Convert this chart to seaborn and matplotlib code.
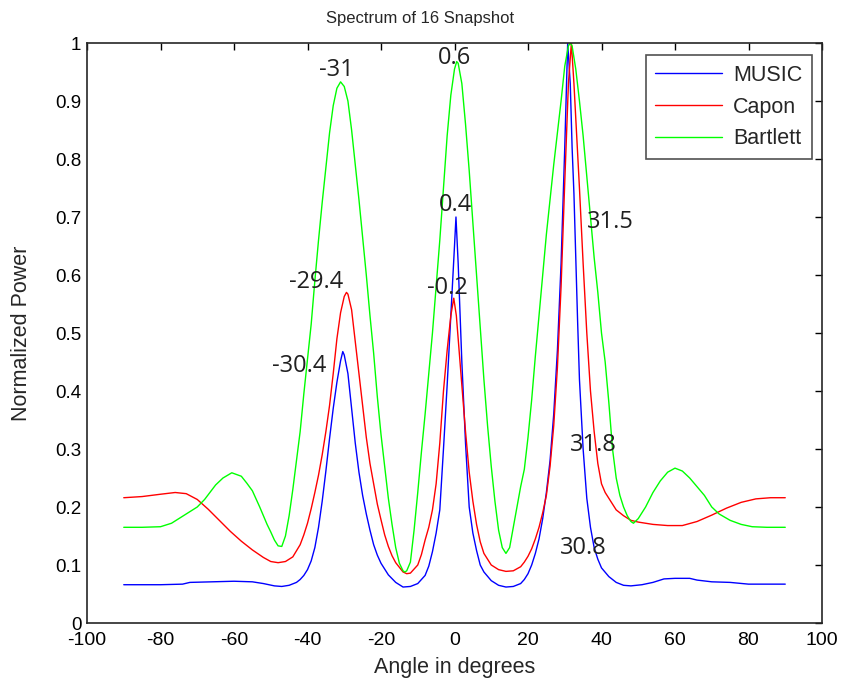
import matplotlib
matplotlib.use("Agg")
import matplotlib.pyplot as plt
import seaborn as sns
import pandas as pd

# ---- data ----
music_x = [-90, -80, -74, -72, -66, -60, -55, -52, -49, -47, -45, -43, -42, -41, -40, -39, -38, -37, -36,
           -35, -34, -33, -32, -31, -30.4, -30, -29, -28, -27, -26, -25, -24, -23, -22, -21, -20, -18, -16,
           -14, -12, -10, -8, -7, -6, -5, -4, -3, -2, -1, 0, 0.4, 1, 2, 3, 4, 5, 6, 7, 8, 10, 12, 14, 16, 18,
           19, 20, 21, 22, 23, 24, 25, 26, 27, 28, 29, 30, 30.8, 31.5, 32, 32.5, 33, 33.5, 34, 35, 36, 37, 38,
           39, 40, 42, 44, 46, 48, 51, 54, 57, 60, 64, 66, 70, 75, 80, 90]
music_y = [0.066, 0.066, 0.067, 0.07, 0.071, 0.072, 0.071, 0.068, 0.064, 0.063, 0.065, 0.07, 0.075, 0.082,
           0.092, 0.107, 0.13, 0.165, 0.21, 0.262, 0.318, 0.37, 0.415, 0.452, 0.468, 0.462, 0.43, 0.37, 0.31,
           0.26, 0.22, 0.188, 0.16, 0.135, 0.117, 0.103, 0.083, 0.07, 0.062, 0.063, 0.068, 0.082, 0.098,
           0.123, 0.155, 0.195, 0.3, 0.41, 0.53, 0.65, 0.70, 0.62, 0.45, 0.31, 0.2, 0.155, 0.125, 0.1, 0.088,
           0.073, 0.065, 0.062, 0.063, 0.068, 0.075, 0.085, 0.1, 0.12, 0.145, 0.18, 0.225, 0.28, 0.36, 0.47,
           0.62, 0.82, 1.0, 0.93, 0.82, 0.74, 0.63, 0.52, 0.42, 0.3, 0.215, 0.165, 0.13, 0.11, 0.095, 0.08,
           0.07, 0.065, 0.064, 0.066, 0.07, 0.076, 0.077, 0.077, 0.074, 0.071, 0.07, 0.067, 0.067]

capon_x = [-90, -85, -80, -76, -73, -70, -67, -64, -61, -58, -55, -52, -50, -48, -46, -44, -42, -41, -40,
           -39, -38, -37, -36, -35, -34, -33, -32, -31, -30, -29.4, -29, -28, -27, -26, -25, -24, -23, -22,
           -21, -20, -19, -18, -17, -16, -14, -13, -12, -10, -9, -8, -7, -6, -5, -4, -3, -2, -1, -0.2, 0.5,
           1, 2, 3, 4, 5, 6, 7, 8, 10, 12, 14, 16, 18, 19, 20, 21, 22, 23, 24, 25, 26, 27, 28, 29, 30, 31,
           31.8, 32.5, 33, 34, 35, 36, 37, 38, 39, 40, 41, 42, 43, 44, 46, 48, 50, 54, 58, 62, 66, 70, 74,
           78, 82, 86, 90]
capon_y = [0.216, 0.218, 0.222, 0.225, 0.223, 0.213, 0.196, 0.177, 0.158, 0.141, 0.126, 0.113, 0.106,
           0.104, 0.106, 0.114, 0.135, 0.152, 0.172, 0.197, 0.225, 0.255, 0.29, 0.33, 0.375, 0.43, 0.49,
           0.535, 0.563, 0.57, 0.567, 0.54, 0.485, 0.43, 0.375, 0.32, 0.275, 0.24, 0.205, 0.178, 0.152,
           0.132, 0.116, 0.104, 0.088, 0.085, 0.086, 0.1, 0.118, 0.143, 0.165, 0.195, 0.24, 0.31, 0.40,
           0.47, 0.53, 0.56, 0.53, 0.49, 0.41, 0.33, 0.26, 0.21, 0.17, 0.14, 0.12, 0.1, 0.092, 0.089, 0.09,
           0.097, 0.105, 0.115, 0.128, 0.145, 0.165, 0.19, 0.22, 0.27, 0.34, 0.44, 0.58, 0.76, 0.93, 1.0,
           0.93, 0.87, 0.75, 0.62, 0.5, 0.4, 0.33, 0.275, 0.24, 0.225, 0.215, 0.205, 0.195, 0.185, 0.177,
           0.174, 0.17, 0.168, 0.168, 0.175, 0.186, 0.198, 0.208, 0.214, 0.216, 0.216]

bartlett_x = [-90, -85, -80, -77, -73, -70, -68, -65, -63, -60.6, -58, -56.5, -55, -53, -51, -50, -49, -48,
              -47, -46, -45, -44, -43, -42, -41, -40, -39, -38, -37, -36, -35, -34, -33, -32, -31, -30, -29,
              -28, -27, -26, -25, -24, -23, -22, -21, -20, -19, -18, -17, -16, -15, -14, -13.5, -13, -12,
              -11, -10, -9, -8, -7, -6, -5, -4, -3, -2, -1, 0, 0.6, 1, 2, 3, 4, 5, 6, 7, 8, 9, 10, 11, 12,
              13, 14, 15, 16, 17, 18, 19, 20, 21, 22, 23, 24, 25, 26, 27, 28, 29, 30, 31, 31.5, 32, 33, 34,
              35, 36, 37, 38, 39, 40, 41, 42, 43, 44, 45, 46, 47, 48, 48.7, 50, 52, 54, 56, 58, 60, 62, 64,
              66, 68, 70, 72, 75, 78, 81, 85, 90]
bartlett_y = [0.165, 0.165, 0.166, 0.172, 0.188, 0.2, 0.213, 0.238, 0.25, 0.259, 0.253, 0.241, 0.228, 0.2,
              0.17, 0.157, 0.143, 0.133, 0.132, 0.15, 0.185, 0.23, 0.28, 0.33, 0.395, 0.455, 0.515, 0.59,
              0.66, 0.725, 0.785, 0.845, 0.892, 0.922, 0.933, 0.925, 0.9, 0.85, 0.79, 0.73, 0.665, 0.6,
              0.53, 0.465, 0.39, 0.325, 0.27, 0.215, 0.17, 0.13, 0.103, 0.09, 0.088, 0.09, 0.105, 0.16,
              0.225, 0.295, 0.36, 0.43, 0.5, 0.58, 0.66, 0.75, 0.84, 0.91, 0.955, 0.968, 0.965, 0.93, 0.86,
              0.78, 0.69, 0.6, 0.51, 0.42, 0.34, 0.27, 0.21, 0.16, 0.13, 0.12, 0.13, 0.165, 0.2, 0.235,
              0.265, 0.32, 0.385, 0.46, 0.53, 0.6, 0.67, 0.73, 0.79, 0.845, 0.9, 0.96, 0.995, 1.0, 0.995,
              0.955, 0.9, 0.84, 0.77, 0.7, 0.63, 0.57, 0.5, 0.45, 0.38, 0.3, 0.25, 0.22, 0.2, 0.185, 0.175,
              0.172, 0.18, 0.2, 0.225, 0.245, 0.26, 0.267, 0.262, 0.25, 0.235, 0.22, 0.2, 0.188, 0.177,
              0.17, 0.166, 0.165, 0.165]

series_names = ["MUSIC", "Capon", "Bartlett"]
series_colors = ["#0000ff", "#ff0000", "#00ff00"]

peak_labels = ["-31", "0.6", "0.4", "31.5", "-29.4", "-0.2", "-30.4", "31.8", "30.8"]
peak_label_x = [-32.2, 0.1, 0.4, 42.3, -37.7, -2.0, -42.3, 37.7, 35.0]
peak_label_y = [0.953, 0.974, 0.72, 0.691, 0.588, 0.578, 0.443, 0.307, 0.129]

x_ticks = [-100, -80, -60, -40, -20, 0, 20, 40, 60, 80, 100]
y_ticks = [0, 0.1, 0.2, 0.3, 0.4, 0.5, 0.6, 0.7, 0.8, 0.9, 1]
y_tick_labels = ["0", "0.1", "0.2", "0.3", "0.4", "0.5", "0.6", "0.7", "0.8", "0.9", "1"]

# ---- build table ----
frames = []
for name, xs, ys in zip(series_names, [music_x, capon_x, bartlett_x], [music_y, capon_y, bartlett_y]):
    frames.append(pd.DataFrame({"angle": xs, "power": ys, "method": name}))
df = pd.concat(frames, ignore_index=True)

sns.set_style("white")
plt.rcParams["font.family"] = ["Liberation Sans", "DejaVu Sans"]

fig = plt.figure(figsize=(8.44, 6.87), dpi=100)
ax = fig.add_axes([87 / 844, 64 / 687, 735 / 844, 580 / 687])

sns.lineplot(data=df, x="angle", y="power", hue="method", hue_order=series_names,
             palette=dict(zip(series_names, series_colors)), estimator=None, sort=True,
             linewidth=1.0, ax=ax)

ax.set_xlim(-100, 100)
ax.set_ylim(0, 1)
ax.set_xticks(x_ticks)
ax.set_xticklabels([str(t) for t in x_ticks], fontsize=14)
ax.set_yticks(y_ticks)
ax.set_yticklabels(y_tick_labels, fontsize=13.5)
ax.tick_params(direction="in", top=True, right=True, length=5, width=1, colors="black", pad=4)
ax.tick_params(axis="x", pad=6.5)
for s in ax.spines.values():
    s.set_color("#262626")
    s.set_linewidth(1.2)

ax.set_xlabel("Angle in degrees", fontsize=15.5, va="center")
ax.xaxis.set_label_coords(0.5, (623 - 667) / 580)
ax.set_ylabel("Normalized Power", fontsize=15.5, va="center")
ax.yaxis.set_label_coords((22 - 87) / 735, 0.5)
fig.text(420 / 844, 1 - 18 / 687, "Spectrum of 16 Snapshot", ha="center", va="center", fontsize=12)

for lab, lx, ly in zip(peak_labels, peak_label_x, peak_label_y):
    ax.text(lx, ly, lab, ha="center", va="center", fontsize=17,
            family=["Open Sans", "DejaVu Sans"], color="#202020")

leg = ax.legend(loc="upper right", bbox_to_anchor=(0.986, 0.979), borderaxespad=0, frameon=True,
                fancybox=False, fontsize=15.5, handlelength=3.1, labelspacing=0.5, handletextpad=0.5,
                borderpad=0.45)
leg.get_frame().set_edgecolor("#262626")
leg.get_frame().set_linewidth(1.2)
leg.set_title(None)

fig.savefig("out.png", dpi=100, facecolor="white")
